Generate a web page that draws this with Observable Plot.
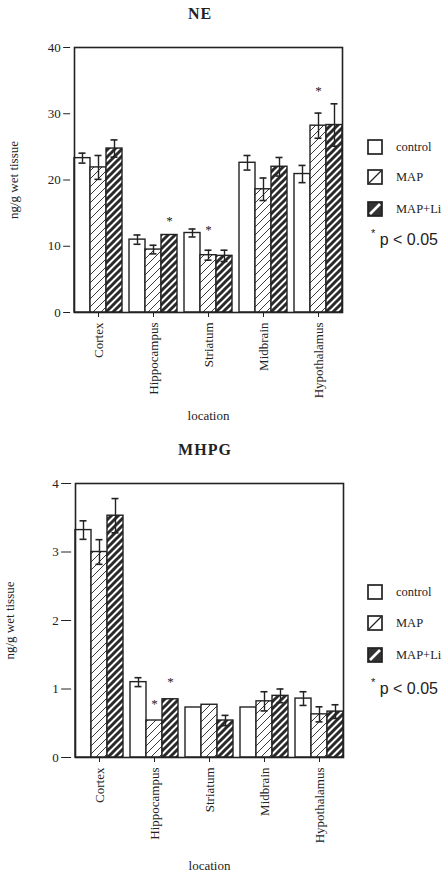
<!DOCTYPE html>
<html>
<head>
<meta charset="utf-8">
<script src="https://cdn.jsdelivr.net/npm/d3@7"></script>
<script src="https://cdn.jsdelivr.net/npm/@observablehq/plot@0.6"></script>
<style>
  body { margin: 0; background: #fff; }
  #wrap { position: relative; width: 442px; height: 875px; overflow: hidden; font-family: "Liberation Serif", serif; color: #222; }
  .panel { position: absolute; left: 0; }
  .title { position: absolute; font-weight: bold; font-size: 16px; letter-spacing: 1px; transform: translate(-50%, -50%); }
  .sw { position: absolute; width: 16px; height: 16px; transform: translateY(-50%); }
  .lt { position: absolute; font-size: 12.5px; transform: translateY(-50%); white-space: nowrap; }
  .pv { position: absolute; font-family: "Liberation Sans", sans-serif; font-size: 16px; transform: translateY(-50%); white-space: nowrap; }
  .pv sup { font-size: 11px; position: relative; top: -2px; }
</style>
</head>
<body>
<svg width="0" height="0" style="position:absolute">
  <defs>
    <pattern id="hatchMAP" patternUnits="userSpaceOnUse" width="8" height="8">
      <rect width="8" height="8" fill="white"/>
      <path d="M-2,2 L2,-2 M0,8 L8,0 M6,10 L10,6" stroke="#222" stroke-width="0.9"/>
    </pattern>
    <pattern id="hatchMAPLi" patternUnits="userSpaceOnUse" width="7" height="7">
      <rect width="7" height="7" fill="white"/>
      <path d="M-2,2 L2,-2 M0,7 L7,0 M5,9 L9,5" stroke="#2a2a2a" stroke-width="3"/>
    </pattern>
  </defs>
</svg>
<div id="wrap"></div>
<script>
// ---- categories ----
const locations = ["Cortex", "Hippocampus", "Striatum", "Midbrain", "Hypothalamus"];
const groups = ["control", "MAP", "MAP+Li"];

// ---- NE (ng/g wet tissue) ----
const neControl   = [23.3, 11.0, 12.0, 22.6, 20.9];
const neMAP       = [21.9,  9.5,  8.65, 18.6, 28.2];
const neMAPLi     = [24.75, 11.7, 8.55, 22.0, 28.3];
const neControlSD = [0.75, 0.7, 0.6, 1.1, 1.3];
const neMAPSD     = [1.8, 0.65, 0.75, 1.7, 1.9];
const neMAPLiSD   = [1.3, null, 0.85, 1.4, 3.2];
const neStarLoc   = ["Hippocampus", "Striatum", "Hypothalamus"];
const neStarGroup = ["MAP+Li", "MAP", "MAP"];
const neStarY     = [14.2, 12.8, 33.7];
const neTicks     = [0, 10, 20, 30, 40];

// ---- MHPG (ng/g wet tissue) ----
const mhControl   = [3.32, 1.10, 0.73, 0.73, 0.86];
const mhMAP       = [3.00, 0.54, 0.77, 0.82, 0.63];
const mhMAPLi     = [3.53, 0.85, 0.54, 0.90, 0.67];
const mhControlSD = [0.135, 0.065, null, null, 0.1];
const mhMAPSD     = [0.18, null, null, 0.14, 0.11];
const mhMAPLiSD   = [0.25, null, 0.075, 0.1, 0.1];
const mhStarLoc   = ["Hippocampus", "Hippocampus"];
const mhStarGroup = ["MAP", "MAP+Li"];
const mhStarY     = [0.81, 1.13];
const mhTicks     = [0, 1, 2, 3, 4];

function table(means, sds) {
  const rows = [];
  groups.forEach((g, gi) => locations.forEach((loc, li) => {
    rows.push({location: loc, group: g, mean: means[gi][li], sd: sds[gi][li]});
  }));
  return rows;
}
function starTable(locs, grs, ys) {
  return locs.map((l, i) => ({location: l, group: grs[i], y: ys[i]}));
}

const PAD_IN = 0.13, PAD_OUT = 0.07;

function panel(o) {
  const data = o.data;
  const err = data.filter(d => d.sd != null);
  const plotW = 442 - o.ml - o.mr;
  const step = plotW / (locations.length - PAD_IN + 2 * PAD_OUT);
  const shift = -PAD_OUT * step;
  return Plot.plot({
    width: 442,
    height: o.height,
    marginTop: o.mt, marginBottom: o.mb, marginLeft: o.ml, marginRight: o.mr,
    style: {fontFamily: "'Liberation Serif', serif", fontSize: "13px", background: "white", color: "#222"},
    fx: {domain: locations, paddingInner: PAD_IN, paddingOuter: PAD_OUT},
    x: {domain: groups, padding: 0, axis: null},
    y: {domain: o.yDomain},
    color: {domain: groups, range: ["white", "url(#hatchMAP)", "url(#hatchMAPLi)"]},
    marks: [
      Plot.barY(data, {fx: "location", x: "group", y: "mean", fill: "group", stroke: "#222", strokeWidth: 1.4}),
      Plot.ruleX(err, {fx: "location", x: "group", y1: d => d.mean - d.sd, y2: d => d.mean + d.sd, stroke: "#222", strokeWidth: 1.4}),
      Plot.tickY(err, {fx: "location", x: "group", y: d => d.mean + d.sd, insetLeft: 4.5, insetRight: 4.5, stroke: "#222", strokeWidth: 1.6}),
      Plot.tickY(err, {fx: "location", x: "group", y: d => d.mean - d.sd, insetLeft: 4.5, insetRight: 4.5, stroke: "#222", strokeWidth: 1.6}),
      Plot.text(o.stars, {fx: "location", x: "group", y: "y", text: () => "*", fontSize: 13, dy: 2, fill: "#222"}),
      Plot.axisY({ticks: o.ticks, tickFormat: d3.format("d"), dx: shift, tickSize: o.tickSize, tickPadding: 3, label: "ng/g wet tissue", labelAnchor: "center", labelOffset: o.ylo, labelArrow: "none", fontSize: 13}),
      Plot.axisFx({anchor: "bottom", tickRotate: -90, tickSize: 5, tickPadding: 5, label: "location", labelAnchor: "center", labelOffset: o.xlo, fontSize: 13}),
      Plot.frame({facet: "super", stroke: "#222", strokeWidth: 1.6})
    ]
  });
}

const wrap = document.getElementById("wrap");

function addPanel(top, o, title, titleX, titleY, leg) {
  const svg = panel(o);
  svg.classList.add("panel");
  svg.style.top = top + "px";
  wrap.appendChild(svg);
  const t = document.createElement("div");
  t.className = "title";
  t.textContent = title;
  t.style.left = titleX + "px";
  t.style.top = titleY + "px";
  wrap.appendChild(t);
  const sw = {
    "control": '<svg width="16" height="16"><rect x="1" y="1" width="14" height="14" fill="white" stroke="#222" stroke-width="1.7"/></svg>',
    "MAP": '<svg width="16" height="16"><rect x="1" y="1" width="14" height="14" fill="white" stroke="#222" stroke-width="1.7"/><path d="M2,14 L14,2" stroke="#222" stroke-width="1.2"/></svg>',
    "MAP+Li": '<svg width="16" height="16"><rect x="1" y="1" width="14" height="14" fill="#333" stroke="#222" stroke-width="1.7"/><path d="M3,13 L13,3" stroke="white" stroke-width="2.6"/></svg>'
  };
  groups.forEach((g, i) => {
    const s = document.createElement("div");
    s.className = "sw";
    s.style.left = "367px";
    s.style.top = leg.ys[i] + "px";
    s.innerHTML = sw[g];
    wrap.appendChild(s);
    const l = document.createElement("div");
    l.className = "lt";
    l.style.left = "396px";
    l.style.top = leg.ys[i] + "px";
    l.textContent = g;
    wrap.appendChild(l);
  });
  const p = document.createElement("div");
  p.className = "pv";
  p.style.left = "371px";
  p.style.top = leg.py + "px";
  p.innerHTML = "<sup>*</sup> p &lt; 0.05";
  wrap.appendChild(p);
}

addPanel(0, {
  data: table([neControl, neMAP, neMAPLi], [neControlSD, neMAPSD, neMAPLiSD]),
  stars: starTable(neStarLoc, neStarGroup, neStarY),
  height: 440, mt: 47, mb: 128, ml: 69, mr: 96,
  yDomain: [0, 40], ticks: neTicks, tickSize: 7, ylo: 66, xlo: 107
}, "NE", 200, 14, {ys: [147, 177, 209], py: 239});

addPanel(440, {
  data: table([mhControl, mhMAP, mhMAPLi], [mhControlSD, mhMAPSD, mhMAPLiSD]),
  stars: starTable(mhStarLoc, mhStarGroup, mhStarY),
  height: 435, mt: 43, mb: 118, ml: 70, mr: 95,
  yDomain: [0, 4], ticks: mhTicks, tickSize: 10, ylo: 71, xlo: 112
}, "MHPG", 205, 450, {ys: [592, 623, 655], py: 688});
</script>
</body>
</html>
